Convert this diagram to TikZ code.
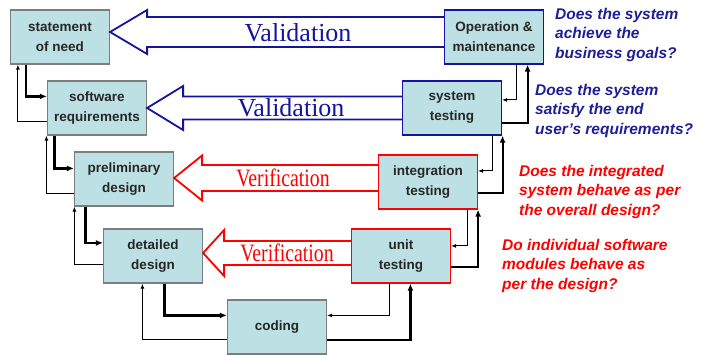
\documentclass[tikz,border=0pt]{standalone}
\usepackage{fontspec}
\setmainfont{Liberation Sans}
\newfontfamily\vvfont{Liberation Serif}
\usetikzlibrary{arrows.meta}

\definecolor{boxfill}{RGB}{188,224,227}
\definecolor{boxline}{RGB}{125,125,125}
\definecolor{valblue}{RGB}{20,20,160}
\definecolor{askblue}{RGB}{30,30,150}

\tikzstyle{phase}=[draw=boxline,fill=boxfill,line width=1.2pt,minimum width=99pt,minimum height=54pt,inner sep=2pt,align=center,text=black!85,font=\fontsize{13.5}{20}\selectfont\bfseries]
\tikzstyle{valphase}=[phase,draw=valblue]
\tikzstyle{verphase}=[phase,draw=red]
\tikzstyle{forward}=[line width=2.2pt,->,>={Latex[length=7pt,width=6pt]}]
\tikzstyle{back}=[line width=0.9pt,->,>={Latex[length=5pt,width=4pt]}]
\tikzstyle{valarrow}=[draw=valblue,line width=1.8pt,line join=miter]
\tikzstyle{verarrow}=[draw=red,line width=1.8pt,line join=miter]
\tikzstyle{question}=[anchor=base west,align=left,inner sep=0pt,font=\fontsize{15.5}{19.5}\selectfont\bfseries\itshape]

\begin{document}
\begin{tikzpicture}[x=1pt,y=-1pt,node distance=71pt]
  \tikzstyle{valtext}=[text=valblue,font=\fontsize{26}{26}\vvfont]
  \tikzstyle{vertext}=[text=red,font=\fontsize{25}{25}\vvfont,xscale=0.79]
  \useasboundingbox (0,0) rectangle (705,354);

  % left side, going down
  \node [phase] (sn) at (60,37) {statement\\of need};
  \node [phase] (sr) [below of=sn,xshift=37pt] {software\\requirements};
  \node [phase] (pd) [below of=sr,xshift=27pt] {preliminary\\design};
  \node [phase] (dd) [below of=pd,xshift=29pt,yshift=-6pt] {detailed\\design};
  \node [phase] (cd) [below of=dd,xshift=124pt] {coding};

  % right side, going up
  \node [valphase] (om) [right of=sn,xshift=363pt] {Operation \&\\maintenance};
  \node [valphase] (st) [below of=om,xshift=-42pt] {system\\testing};
  \node [verphase] (it) [below of=st,xshift=-24pt,yshift=-3pt] {integration\\testing};
  \node [verphase] (ut) [below of=it,xshift=-27pt,yshift=-3pt] {unit\\testing};

  % big arrows
  \coordinate (v1a) at ([yshift=5pt]sn.east);
  \coordinate (v1b) at ([yshift=5pt]om.west);
  \draw [valarrow] ([yshift=15pt]v1b) -- ([xshift=37pt,yshift=15pt]v1a) -- ([xshift=37pt,yshift=22pt]v1a)
    -- (v1a) -- ([xshift=37pt,yshift=-22pt]v1a) -- ([xshift=37pt,yshift=-15pt]v1a) -- ([yshift=-15pt]v1b);
  \coordinate (v2a) at (sr.east);
  \coordinate (v2b) at (st.west);
  \draw [valarrow] ([yshift=11.5pt]v2b) -- ([xshift=36pt,yshift=11.5pt]v2a) -- ([xshift=36pt,yshift=22pt]v2a)
    -- (v2a) -- ([xshift=36pt,yshift=-22pt]v2a) -- ([xshift=36pt,yshift=-11.5pt]v2a) -- ([yshift=-11.5pt]v2b);
  \coordinate (v3a) at ([yshift=1pt]pd.east);
  \coordinate (v3b) at ([yshift=4pt]it.west);
  \draw [verarrow] ([yshift=13pt]v3b) -- ([xshift=28pt,yshift=13pt]v3a) -- ([xshift=28pt,yshift=22.5pt]v3a)
    -- (v3a) -- ([xshift=28pt,yshift=-22.5pt]v3a) -- ([xshift=28pt,yshift=-13pt]v3a) -- ([yshift=-13pt]v3b);
  \coordinate (v4a) at ([yshift=3pt]dd.east);
  \coordinate (v4b) at ([yshift=3pt]ut.west);
  \draw [verarrow] ([yshift=12pt]v4b) -- ([xshift=21pt,yshift=12pt]v4a) -- ([xshift=21pt,yshift=23pt]v4a)
    -- (v4a) -- ([xshift=21pt,yshift=-23pt]v4a) -- ([xshift=21pt,yshift=-12pt]v4a) -- ([yshift=-12pt]v4b);

  \node [valtext] (val1) at (298,33) {Validation};
  \node [valtext] (val2) at (291,108) {Validation};
  \node [vertext] (ver1) at (283,178) {Verification};
  \node [vertext] (ver2) at (287,253) {Verification};

  % down the left side
  \draw [forward] ([xshift=16pt]sn.south west) |- ([yshift=-16pt]sr.north west);
  \draw [back] ([yshift=14pt]sr.south west) -| ([xshift=8pt]sn.south west);
  \draw [forward] ([xshift=7.5pt]sr.south west) |- ([yshift=-17pt]pd.north west);
  \draw [back] ([yshift=13pt]pd.south west) -| ([xshift=-0.5pt]sr.south west);
  \draw [forward] ([xshift=11.5pt]pd.south west) |- ([yshift=-14.5pt]dd.north west);
  \draw [back] ([yshift=19.5pt]dd.south west) -| ([xshift=0.5pt]pd.south west);
  \draw [forward] ([xshift=61.5pt]dd.south west) |- ([yshift=-16pt]cd.north west);
  \draw [back] ([yshift=15pt]cd.south west) -| ([xshift=39.5pt]dd.south west);

  % up the right side
  \draw [back] ([xshift=38.5pt]ut.south west) |- ([yshift=-16pt]cd.north east);
  \draw [forward] ([yshift=15pt]cd.south east) -| ([xshift=59.5pt]ut.south west);
  \draw [back] ([xshift=-10.5pt]it.south east) |- ([yshift=-17.5pt]ut.north east);
  \draw [forward] ([yshift=16.5pt]ut.south east) -| (it.south east);
  \draw [back] ([xshift=-9.5pt]st.south east) |- ([yshift=-16.5pt]it.north east);
  \draw [forward] ([yshift=16.5pt]it.south east) -| ([xshift=0.5pt]st.south east);
  \draw [back] ([xshift=-27.5pt]om.south east) |- ([yshift=-19.5pt]st.north east);
  \draw [forward] ([yshift=12.5pt]st.south east) -| ([xshift=-16.5pt]om.south east);

  % questions (placed at the baseline of their last line)
  \node [question,text=askblue] (q1) at (555,58) {Does the system\\achieve the\\business goals?};
  \node [question,text=askblue] (q2) at (535,134) {Does the system\\satisfy the end\\user's requirements?};
  \node [question,text=red] (q3) at (519,215) {Does the integrated\\system behave as per\\the overall design?};
  \node [question,text=red] (q4) at (502,289) {Do individual software\\modules behave as\\per the design?};
\end{tikzpicture}
\end{document}
